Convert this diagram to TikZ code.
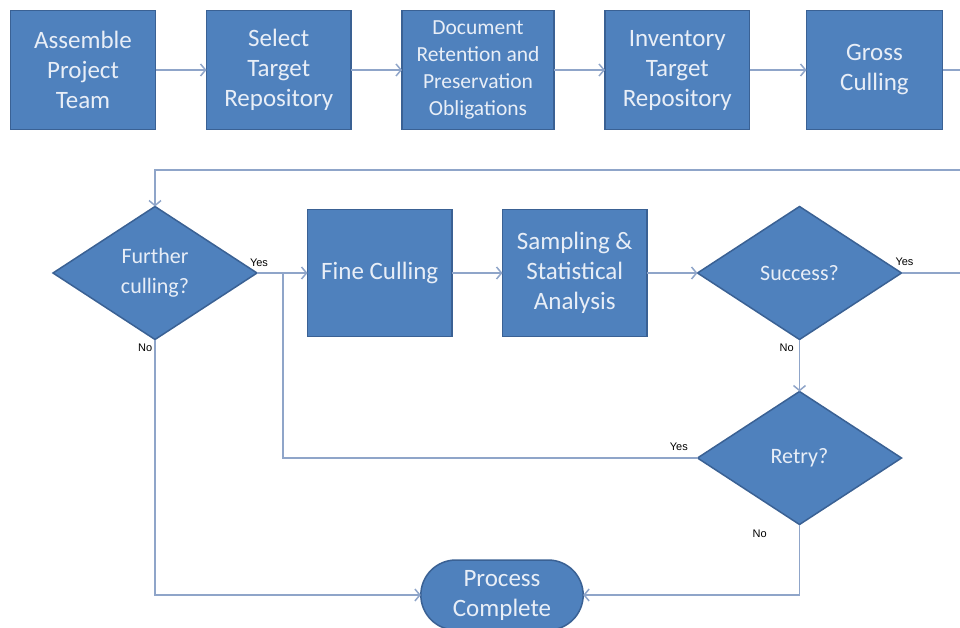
\documentclass[tikz,border=0pt]{standalone}
\usepackage{fontspec}
\setmainfont{Carlito}
\newfontfamily\tagfont{Liberation Sans}
\usepackage{tikz}
\usetikzlibrary{chains,positioning,shapes.geometric,shapes.misc,arrows.meta}

\definecolor{boxfill}{HTML}{4F81BD}
\definecolor{boxline}{HTML}{3A6194}
\definecolor{linkcol}{HTML}{8FA5C9}
\definecolor{boxtext}{HTML}{E8EEF7}

\begin{document}
\begin{tikzpicture}[x=1pt,y=-1pt]
		\tikzstyle{every path}=[line width=1.5pt]
		\tikzstyle{link}=[draw=linkcol,-{Straight Barb[length=5pt,width=12pt]}]
		\tikzstyle{plain}=[draw=linkcol]

		\tikzstyle{stepbox}=[draw=boxline,
								  fill=boxfill,
								  text=boxtext,
								  outer sep=0pt,
								  minimum width=144.5pt,
								  minimum height=119pt,
								  align=center,
								  font=\fontsize{25pt}{30pt}\selectfont]
		\tikzstyle{decision}=[diamond,draw=boxline,
								  fill=boxfill,
								  text=boxtext,
								  outer sep=0pt,
								  inner sep=0pt,
								  aspect=1.53,
								  minimum width=204pt,
								  minimum height=133pt,
								  align=center,
								  font=\fontsize{22pt}{30pt}\selectfont]
		\tikzstyle{terminal}=[rounded rectangle,draw=boxline,
								  fill=boxfill,
								  text=boxtext,
								  outer sep=0pt,
								  minimum width=169pt,
								  minimum height=70pt,
								  align=center,
								  font=\fontsize{25pt}{30pt}\selectfont]
		\tikzstyle{tag}=[inner sep=1pt,font=\tagfont\fontsize{11pt}{13pt}\selectfont]

\useasboundingbox (0,0) rectangle (960,628);

% top row
\begin{scope}[start chain=1 going right,node distance=51pt]

	\node [on chain=1,stepbox,minimum width=145pt] at (83,70) (team) {Assemble\\Project\\Team};
	\node [on chain=1,stepbox] (select) {Select\\Target\\Repository};
	\node [on chain=1,stepbox,minimum width=152pt,
	       font=\fontsize{21.5pt}{27pt}\selectfont] (retain) {Document\\Retention and\\Preservation\\Obligations};
	\node [on chain=1,stepbox] (inventory) {Inventory\\Target\\Repository};
	\node [on chain=1,stepbox,minimum width=136pt,xshift=6pt] (gross) {Gross\\Culling};

\end{scope}

% culling loop
\begin{scope}[start chain=2 going right,node distance=50.5pt]

	\node [on chain=2,decision] at (155,273) (further) {Further\\culling?};
	\node [on chain=2,stepbox,minimum height=127pt] (fine) {Fine Culling};
	\node [on chain=2,stepbox,minimum height=127pt] (sampling) {Sampling \&\\Statistical\\Analysis};
	\node [on chain=2,decision] (success) {Success?};

\end{scope}

	\node [decision,below=52pt of success] (retry) {Retry?};
	\node [terminal] at (502,595) (done) {Process\\Complete};

	\coordinate (grossout) at (960,70);
	\coordinate (loopin) at (960,170);
	\coordinate (successout) at (960,273);
	\coordinate (split) at (283,273);

	\draw[link] (team) -- (select);
	\draw[link] (select) -- (retain);
	\draw[link] (retain) -- (inventory);
	\draw[link] (inventory) -- (gross);
	\draw[plain] (gross) -- (grossout);
	\draw[link] (loopin) -| (further.north);

	\draw[plain] (further.east) -- (split);
	\draw[link] (split) -- (fine);
	\draw[plain] (split) |- (retry.west);
	\draw[link] (fine) -- (sampling);
	\draw[link] (sampling) -- (success);
	\draw[plain] (success.east) -- (successout);
	\draw[link] (success.south) -- (retry.north);
	\draw[link] (retry.south) |- (done.east);
	\draw[link] (further.south) |- (done.west);

	\node [tag,above=5pt,xshift=2pt] at (further.east) (furtheryes) {Yes};
	\node [tag,below left=3pt and 1pt] at (further.south) (furtherno) {No};
	\node [tag,above=6pt,xshift=3pt] at (success.east) (successyes) {Yes};
	\node [tag,below left=3pt and 4pt] at (success.south) (successno) {No};
	\node [tag,above left=6pt and 8pt] at (retry.west) (retryyes) {Yes};
	\node [tag,below left=4pt and 31pt] at (retry.south) (retryno) {No};

\end{tikzpicture}
\end{document}
